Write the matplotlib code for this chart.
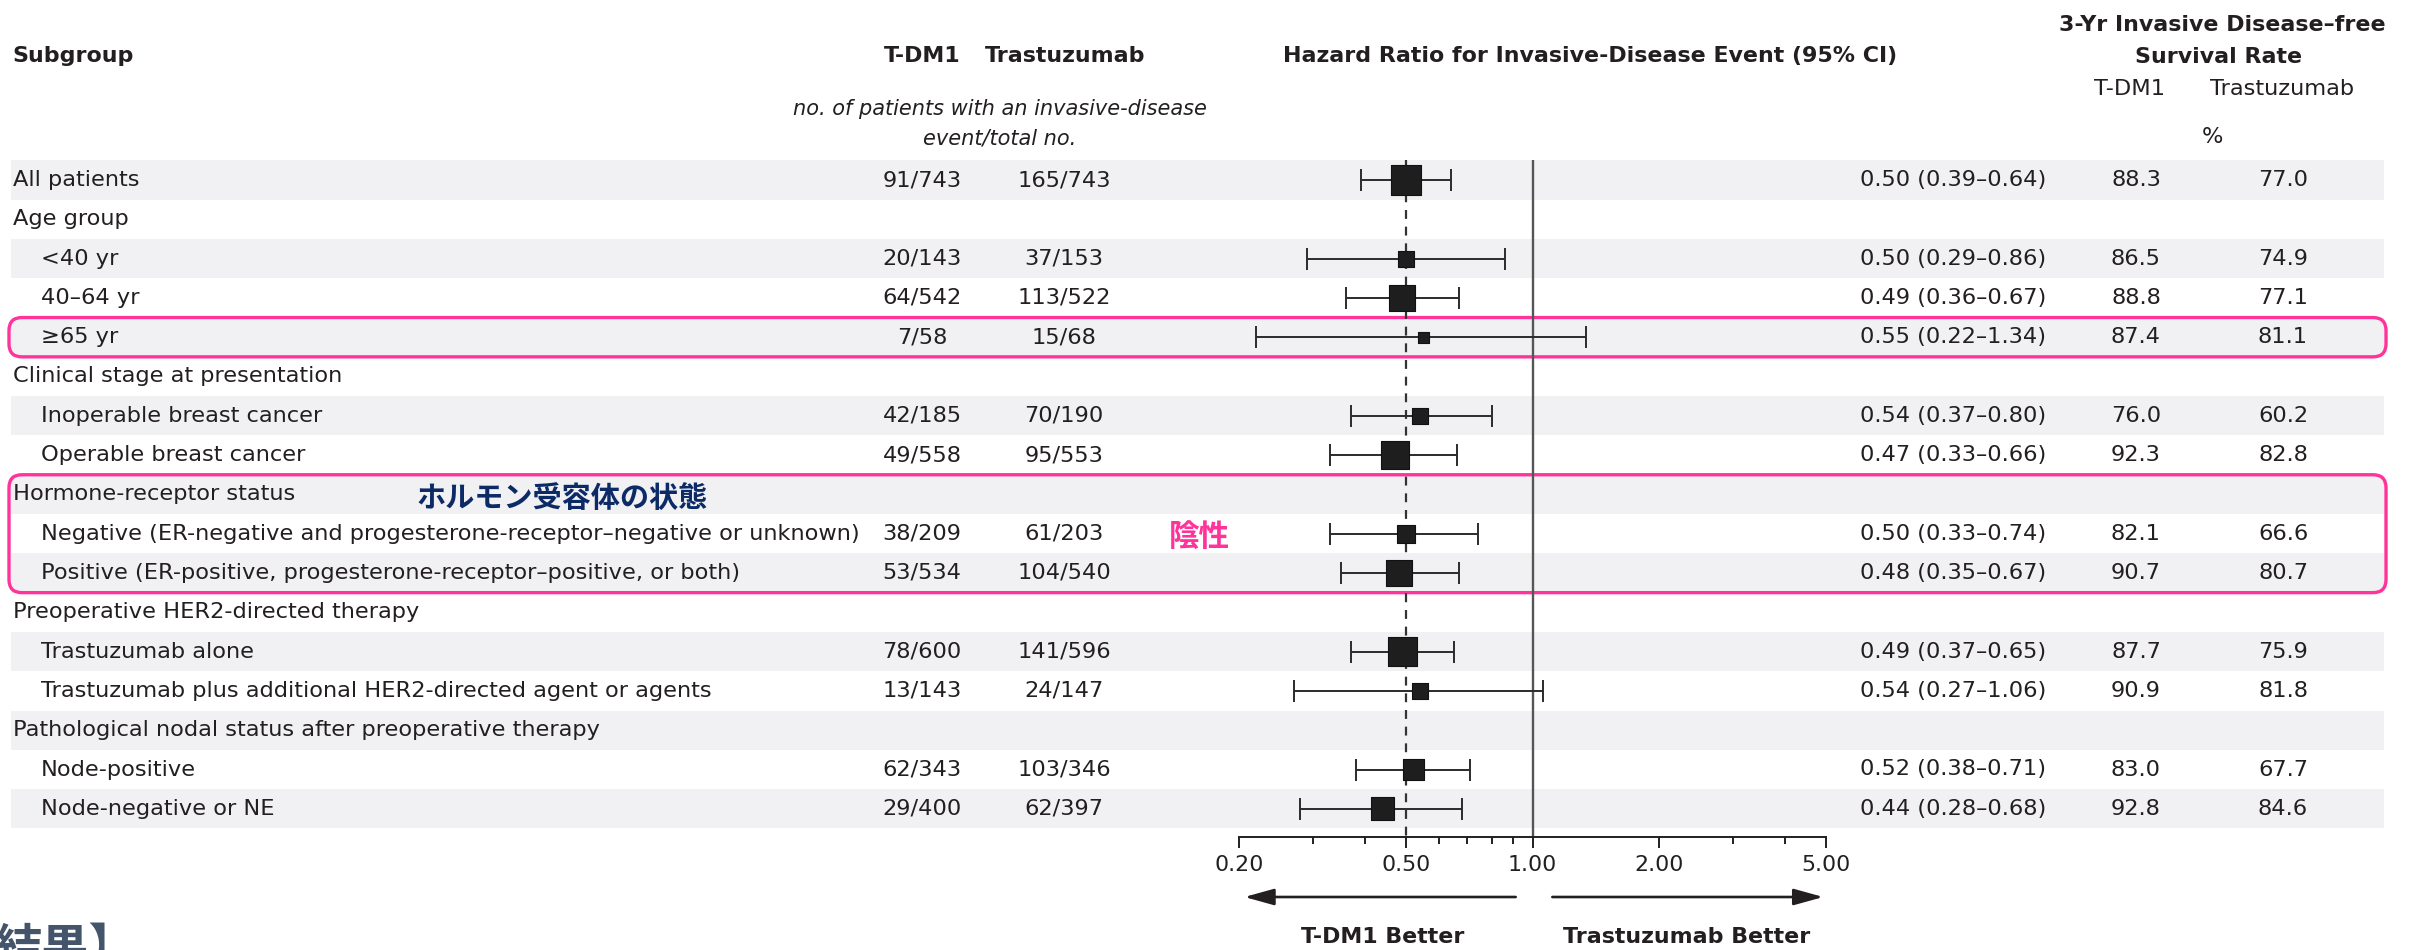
import numpy as np
import matplotlib
matplotlib.use("Agg")
import matplotlib.pyplot as plt
from matplotlib.patches import FancyBboxPatch
from matplotlib.ticker import FixedLocator, NullFormatter

plt.rcParams['font.family'] = ['DejaVu Sans', 'Noto Sans CJK JP']

# subgroup rows, top to bottom
labels = ["All patients", "Age group", "<40 yr", "40\u201364 yr", "\u226565 yr",
          "Clinical stage at presentation", "Inoperable breast cancer", "Operable breast cancer",
          "Hormone-receptor status",
          "Negative (ER-negative and progesterone-receptor\u2013negative or unknown)",
          "Positive (ER-positive, progesterone-receptor\u2013positive, or both)",
          "Preoperative HER2-directed therapy", "Trastuzumab alone",
          "Trastuzumab plus additional HER2-directed agent or agents",
          "Pathological nodal status after preoperative therapy",
          "Node-positive", "Node-negative or NE"]
indent = [0, 0, 1, 1, 1, 0, 1, 1, 0, 1, 1, 0, 1, 1, 0, 1, 1]
tdm1_n = ["91/743", "", "20/143", "64/542", "7/58", "", "42/185", "49/558", "",
          "38/209", "53/534", "", "78/600", "13/143", "", "62/343", "29/400"]
trast_n = ["165/743", "", "37/153", "113/522", "15/68", "", "70/190", "95/553", "",
           "61/203", "104/540", "", "141/596", "24/147", "", "103/346", "62/397"]
hr = [0.50, None, 0.50, 0.49, 0.55, None, 0.54, 0.47, None, 0.50, 0.48, None, 0.49, 0.54, None, 0.52, 0.44]
lo = [0.39, None, 0.29, 0.36, 0.22, None, 0.37, 0.33, None, 0.33, 0.35, None, 0.37, 0.27, None, 0.38, 0.28]
hi = [0.64, None, 0.86, 0.67, 1.34, None, 0.80, 0.66, None, 0.74, 0.67, None, 0.65, 1.06, None, 0.71, 0.68]
rate_tdm1 = [88.3, None, 86.5, 88.8, 87.4, None, 76.0, 92.3, None, 82.1, 90.7, None, 87.7, 90.9, None, 83.0, 92.8]
rate_trast = [77.0, None, 74.9, 77.1, 81.1, None, 60.2, 82.8, None, 66.6, 80.7, None, 75.9, 81.8, None, 67.7, 84.6]
box_weight = [30, None, 16, 26, 10.7, None, 15.7, 27.7, None, 18.3, 26, None, 28.3, 15.7, None, 20.7, 23.3]
overall_hr = 0.50
xticks = [0.2, 0.5, 1.0, 2.0, 5.0]
xminor = [0.3, 0.4, 0.6, 0.7, 0.8, 0.9, 3.0, 4.0]

W, H = 2409, 950
row0, rowh = 180, 39.3          # pixel centre of first row, row pitch
ytop = -row0 / rowh
ybot = (H - row0) / rowh
ink = "#231f20"
pink = "#ff3399"
fs = 16.2
fsb = 15.9


def py(p):
    # pixel row (from top) -> table y units
    return (p - row0) / rowh


fig = plt.figure(figsize=(W / 100, H / 100), dpi=100)
tab = fig.add_axes([0, 0, 1, 1])
tab.set_xlim(0, W)
tab.set_ylim(ybot, ytop)
tab.axis("off")

n = len(labels)
for i in range(n):
    if i % 2 == 0:
        tab.axhspan(i - 0.5, i + 0.5, xmin=11 / W, xmax=2384 / W, color="#f1f1f3", lw=0, zorder=0)

# headers
tab.text(12, py(56), "Subgroup", fontsize=fsb, fontweight="bold", color=ink, va="center")
tab.text(922, py(56), "T-DM1", fontsize=fsb, fontweight="bold", color=ink, va="center", ha="center")
tab.text(1065, py(56), "Trastuzumab", fontsize=fsb, fontweight="bold", color=ink, va="center", ha="center")
tab.text(1000, py(109), "no. of patients with an invasive-disease", fontsize=15, style="italic",
         color=ink, va="center", ha="center")
tab.text(1000, py(139), "event/total no.", fontsize=15, style="italic", color=ink, va="center", ha="center")
tab.text(1590, py(56), "Hazard Ratio for Invasive-Disease Event (95% CI)", fontsize=fsb,
         fontweight="bold", color=ink, va="center", ha="center")
tab.text(2222, py(25), "3-Yr Invasive Disease\u2013free", fontsize=fsb, fontweight="bold",
         color=ink, va="center", ha="center")
tab.text(2219, py(57), "Survival Rate", fontsize=fsb, fontweight="bold", color=ink, va="center", ha="center")
tab.text(2130, py(89), "T-DM1", fontsize=fs, color=ink, va="center", ha="center")
tab.text(2282, py(89), "Trastuzumab", fontsize=fs, color=ink, va="center", ha="center")
tab.text(2212, py(137), "%", fontsize=fs, color=ink, va="center", ha="center")

# table columns
for i in range(n):
    tab.text(13 + 28 * indent[i], i, labels[i], fontsize=fs, color=ink, va="center")
    tab.text(922, i, tdm1_n[i], fontsize=fs, color=ink, va="center", ha="center")
    tab.text(1064, i, trast_n[i], fontsize=fs, color=ink, va="center", ha="center")
    if hr[i] is not None:
        tab.text(1860, i, f"{hr[i]:.2f} ({lo[i]:.2f}\u2013{hi[i]:.2f})", fontsize=fs, color=ink, va="center")
        tab.text(2136, i, f"{rate_tdm1[i]:.1f}", fontsize=fs, color=ink, va="center", ha="center")
        tab.text(2283, i, f"{rate_trast[i]:.1f}", fontsize=fs, color=ink, va="center", ha="center")

# pink highlight boxes
for r0, r1 in [(4, 4), (8, 10)]:
    tab.add_patch(FancyBboxPatch((9, r0 - 0.5), 2377, r1 - r0 + 1,
                                 boxstyle="round,pad=0,rounding_size=13", mutation_aspect=1 / rowh,
                                 fill=False, ec=pink, lw=2.4, zorder=5))

tab.text(416, 8.1, "ホルモン受容体の状態", fontsize=21, fontweight="bold", color="#0b2a66",
         va="center", family=["Noto Sans CJK JP"])
tab.text(1199, 9.1, "陰性", fontsize=22, fontweight="bold", color=pink, va="center", ha="center",
         family=["Noto Sans CJK JP"])

# forest plot
x0, x1 = 1239, 1826
ax = fig.add_axes([x0 / W, 0, (x1 - x0) / W, 1])
ax.set_xscale("log")
ax.set_xlim(0.2, 5)
ax.set_ylim(ybot, ytop)
ax.patch.set_alpha(0)
for s in ["top", "left", "right"]:
    ax.spines[s].set_visible(False)
axis_y = py(837)
ax.spines["bottom"].set_position(("data", axis_y))
ax.spines["bottom"].set_color(ink)
ax.spines["bottom"].set_linewidth(1.4)
ax.xaxis.set_major_locator(FixedLocator(xticks))
ax.xaxis.set_minor_locator(FixedLocator(xminor))
ax.xaxis.set_minor_formatter(NullFormatter())
ax.set_xticklabels([f"{t:.2f}" for t in xticks])
ax.tick_params(axis="x", which="major", direction="out", length=8, width=1.4, color=ink,
               labelsize=fsb, labelcolor=ink, pad=5)
ax.tick_params(axis="x", which="minor", direction="out", length=5, width=1.4, color=ink)
ax.set_yticks([])

ax.vlines(1.0, -0.5, axis_y, color="#555555", lw=1.7, zorder=1)
ax.vlines(overall_hr, -0.5, axis_y, color="#333333", lw=1.6, linestyles=(0, (4, 3.5)), zorder=1)

rows = [i for i in range(n) if hr[i] is not None]
h = np.array([hr[i] for i in rows])
l = np.array([lo[i] for i in rows])
u = np.array([hi[i] for i in rows])
ax.errorbar(h, rows, xerr=[h - l, u - h], fmt="none", ecolor="#2b2b2b", elinewidth=1.4,
            capsize=8, capthick=1.4, zorder=2)
sizes = np.array([box_weight[i] for i in rows]) * 72 / 100
ax.scatter(h, rows, s=sizes ** 2, marker="s", color="#1e1e1e", edgecolors="#111111", lw=0.8, zorder=3)

arrow_y = py(897)
astyle = "-|>,head_length=1.8,head_width=0.5"
ax.annotate("", xy=(0.203, arrow_y), xytext=(0.926, arrow_y), annotation_clip=False,
            arrowprops=dict(arrowstyle=astyle, color=ink, lw=1.9))
ax.annotate("", xy=(5.0, arrow_y), xytext=(1.098, arrow_y), annotation_clip=False,
            arrowprops=dict(arrowstyle=astyle, color=ink, lw=1.9))
lab_y = py(937)
ax.text(0.44, lab_y, "T-DM1 Better", fontsize=fsb, fontweight="bold", color=ink, ha="center", va="center")
ax.text(2.33, lab_y, "Trastuzumab Better", fontsize=fsb, fontweight="bold", color=ink, ha="center", va="center")

fig.text(-6 / W, 1 - 963 / H, "結果】", fontsize=34, fontweight="bold", color="#44546a",
         va="baseline", family=["Noto Sans CJK JP"])

fig.savefig("out.png", dpi=100)
